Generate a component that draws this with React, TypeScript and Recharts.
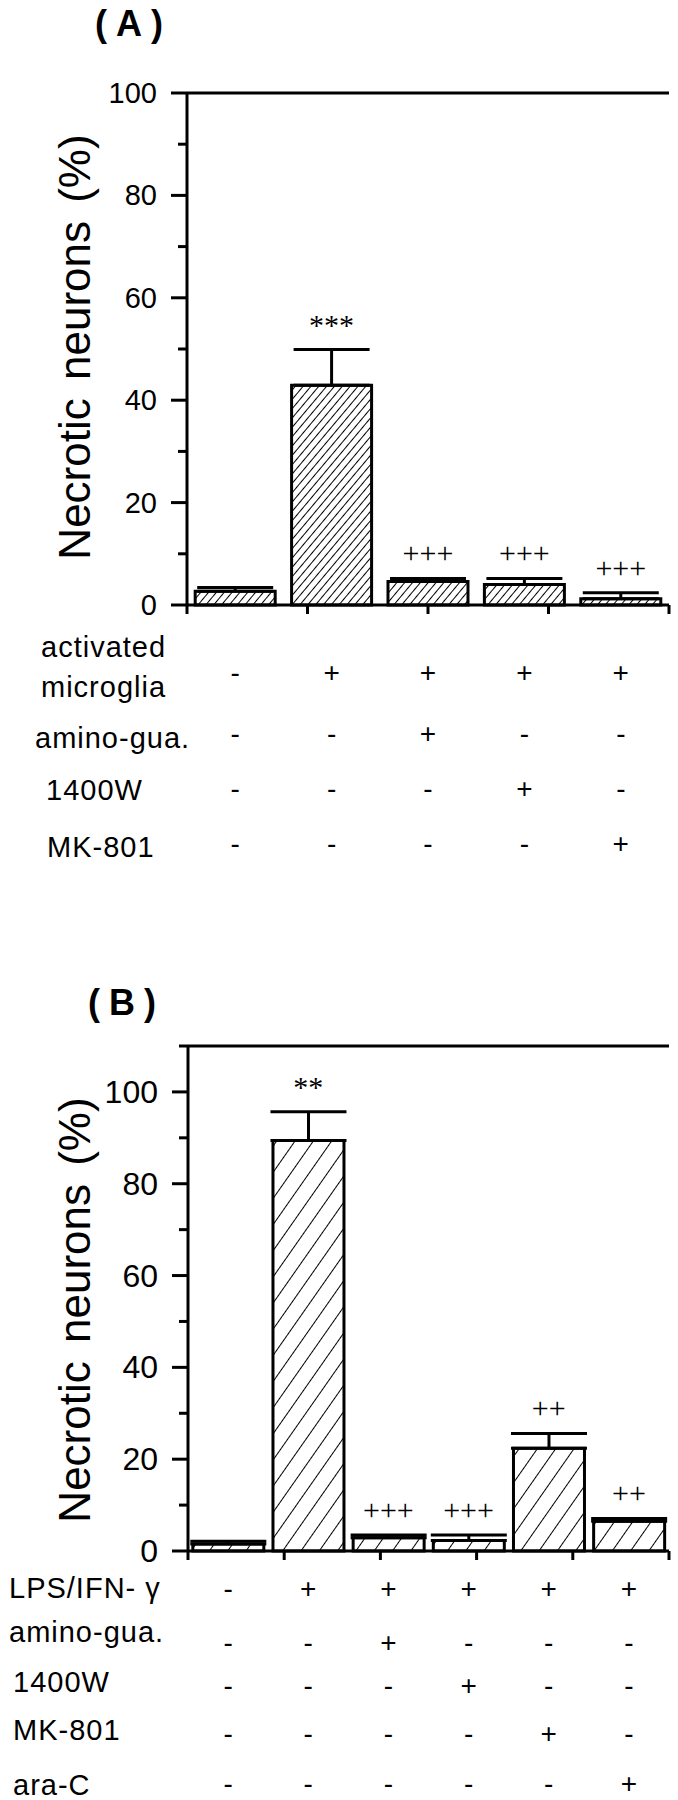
import React from "react";
import { ComposedChart, Bar, ErrorBar, Scatter, XAxis, YAxis, ReferenceLine } from "recharts";

const SANS = '"Liberation Sans", Arial, Helvetica, sans-serif';
const SERIF = '"Liberation Serif", "Times New Roman", serif';

// panel A
const catsA = ["control", "microglia", "amino-gua", "1400W", "MK-801"];
const valsA = [2.7, 42.9, 4.6, 4.0, 1.2];
const errsA = [0.7, 7.0, 0.6, 1.2, 1.2];
const marksA = ["", "***", "+++", "+++", "+++"];
const ticksA = [0, 10, 20, 30, 40, 50, 60, 70, 80, 90, 100];
const microgliaA = ["-", "+", "+", "+", "+"];
const aminoA = ["-", "-", "+", "-", "-"];
const w1400A = ["-", "-", "-", "+", "-"];
const mk801A = ["-", "-", "-", "-", "+"];

// panel B
const catsB = ["control", "LPS/IFN", "amino-gua", "1400W", "MK-801", "ara-C"];
const valsB = [1.5, 89.4, 2.9, 2.3, 22.4, 6.5];
const errsB = [0.6, 6.3, 0.6, 1.2, 3.2, 0.6];
const marksB = ["", "**", "+++", "+++", "++", "++"];
const ticksB = [0, 10, 20, 30, 40, 50, 60, 70, 80, 90, 100, 110];
const lpsB = ["-", "+", "+", "+", "+", "+"];
const aminoB = ["-", "-", "+", "-", "-", "-"];
const w1400B = ["-", "-", "-", "+", "-", "-"];
const mk801B = ["-", "-", "-", "-", "+", "-"];
const araB = ["-", "-", "-", "-", "-", "+"];

const dataA = catsA.map((name, i) => ({
  name,
  value: valsA[i],
  err: [0, errsA[i]],
  top: valsA[i] + errsA[i],
  mark: marksA[i],
}));
const dataB = catsB.map((name, i) => ({
  name,
  value: valsB[i],
  err: [0, errsB[i]],
  top: valsB[i] + errsB[i],
  mark: marksB[i],
}));

const signRowsA = [microgliaA, aminoA, w1400A, mk801A];
const signRowsB = [lpsB, aminoB, w1400B, mk801B, araB];

function YTick(props: any) {
  const { x, y, payload, fontSize } = props;
  const major = payload.value % 20 === 0 && payload.value <= 100;
  return (
    <g>
      <line x1={x - (major ? 16 : 9)} x2={x} y1={y} y2={y} stroke="#000" strokeWidth={3} />
      {major && (
        <text x={x - 30} y={y} textAnchor="end" dominantBaseline="central" fontSize={fontSize} fontFamily={SANS} fill="#000">
          {payload.value}
        </text>
      )}
    </g>
  );
}

function SignColumn(props: any) {
  const { x, y, index, rows, offsets } = props;
  return (
    <g>
      {rows.map((r: string[], k: number) => (
        <text key={k} x={x} y={y + offsets[k]} textAnchor="middle" dominantBaseline="central" fontSize={28} fontFamily={SANS} fill="#000">
          {r[index]}
        </text>
      ))}
    </g>
  );
}

function Mark(props: any) {
  const { cx, cy, payload } = props;
  if (!payload.mark) return <g />;
  return (
    <text x={cx} y={cy - 15} textAnchor="middle" fontSize={30} fontFamily={SERIF} fill="#000">
      {payload.mark}
    </text>
  );
}

function Panel(props: any) {
  const { data, ticks, ymax, id, hatch, top, height, marginTop, axisW, catH, rows, offsets, tickFont, gap } = props;
  const n = data.length;
  const edgeTicks = Array.from({ length: n + 1 }, (_, i) => i);
  return (
    <div style={{ position: "absolute", left: 0, top }}>
      <ComposedChart width={678} height={height} data={data} margin={{ top: marginTop, right: 9, bottom: 0, left: 0 }} barCategoryGap={gap}>
        <defs>
          <pattern id={id} patternUnits="userSpaceOnUse" width={hatch.w} height={hatch.w} patternTransform={`rotate(${hatch.rot})`}>
            <line x1={0} y1={0} x2={0} y2={hatch.w} stroke="#000" strokeWidth={hatch.sw} />
          </pattern>
        </defs>
        <XAxis
          xAxisId="bxCat"
          dataKey="name"
          type="category"
          height={catH}
          axisLine={false}
          tickLine={false}
          tickSize={0}
          tickMargin={0}
          interval={0}
          tick={(p: any) => <SignColumn {...p} rows={rows} offsets={offsets} />}
        />
        <XAxis
          xAxisId="axEdge"
          type="number"
          domain={[0, n]}
          ticks={edgeTicks}
          interval={0}
          height={15}
          tickSize={9}
          tickLine={{ stroke: "#000", strokeWidth: 3 }}
          axisLine={{ stroke: "#000", strokeWidth: 3 }}
          tickFormatter={() => ""}
        />
        <YAxis
          type="number"
          domain={[0, ymax]}
          ticks={ticks}
          interval={0}
          width={axisW}
          tickLine={false}
          tickSize={0}
          tickMargin={0}
          axisLine={{ stroke: "#000", strokeWidth: 3 }}
          tick={(p: any) => <YTick {...p} fontSize={tickFont} />}
        />
        <ReferenceLine xAxisId="bxCat" y={ymax} stroke="#000" strokeWidth={3} />
        <ReferenceLine xAxisId="axEdge" x={n} stroke="#000" strokeWidth={3} />
        <Bar dataKey="value" xAxisId="bxCat" fill={`url(#${id})`} stroke="#000" strokeWidth={3} isAnimationActive={false}>
          <ErrorBar dataKey="err" direction="y" width={38} stroke="#000" strokeWidth={3} isAnimationActive={false} />
        </Bar>
        <Scatter dataKey="top" xAxisId="bxCat" isAnimationActive={false} shape={(p: any) => <Mark {...p} />} />
      </ComposedChart>
    </div>
  );
}

const rowText = { fontSize: 29, fontFamily: SANS, letterSpacing: 1, fill: "#000" } as const;

export default function App() {
  return (
    <div style={{ position: "absolute", left: 0, top: 0, width: 678, height: 1800, background: "#fff" }}>
      <svg width={678} height={1800} style={{ position: "absolute", left: 0, top: 0 }}>
        <text x={95} y={36} fontSize={36} fontWeight="bold" fontFamily={SANS} letterSpacing={9}>(A)</text>
        <text x={88} y={1015} fontSize={36} fontWeight="bold" fontFamily={SANS} letterSpacing={9}>(B)</text>
        <text transform="translate(74,347) rotate(-90)" textAnchor="middle" dominantBaseline="central" fontSize={44} fontFamily={SANS} wordSpacing={6}>
          Necrotic neurons (%)
        </text>
        <text transform="translate(74,1310) rotate(-90)" textAnchor="middle" dominantBaseline="central" fontSize={44} fontFamily={SANS} wordSpacing={6}>
          Necrotic neurons (%)
        </text>
        <g dominantBaseline="central">
          <text x={41} y={647} {...rowText}>activated</text>
          <text x={41} y={687} {...rowText}>microglia</text>
          <text x={35} y={738} {...rowText}>amino-gua.</text>
          <text x={46} y={790} {...rowText}>1400W</text>
          <text x={47} y={847} {...rowText}>MK-801</text>
          <text x={9} y={1588} {...rowText}>LPS/IFN- γ</text>
          <text x={9} y={1632} {...rowText}>amino-gua.</text>
          <text x={13} y={1682} {...rowText}>1400W</text>
          <text x={13} y={1730} {...rowText}>MK-801</text>
          <text x={13} y={1785} {...rowText}>ara-C</text>
        </g>
      </svg>
      <Panel
        data={dataA}
        ticks={ticksA}
        ymax={100}
        id="hatchA"
        hatch={{ w: 6, rot: 40, sw: 2 }}
        top={0}
        height={870}
        marginTop={93}
        axisW={187}
        catH={250}
        rows={signRowsA}
        offsets={[52, 113, 168, 223]}
        tickFont={29}
        gap="8.5%"
      />
      <Panel
        data={dataB}
        ticks={ticksB}
        ymax={110}
        id="hatchB"
        hatch={{ w: 15, rot: 35, sw: 2 }}
        top={960}
        height={840}
        marginTop={86}
        axisW={188}
        catH={234}
        rows={signRowsB}
        offsets={[22, 76, 119, 167, 217]}
        tickFont={32}
        gap="6%"
      />
    </div>
  );
}
